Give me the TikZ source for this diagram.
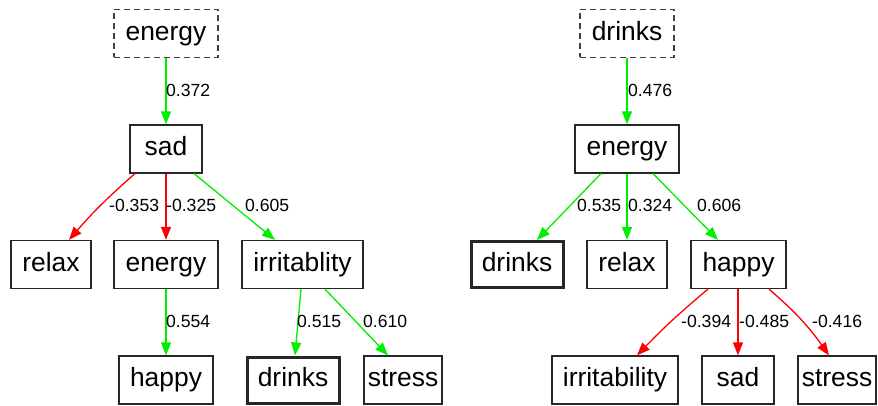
\documentclass[tikz,border=0pt]{standalone}
\usepackage{fontspec}
\setmainfont{Liberation Sans}
\usetikzlibrary{arrows.meta}
\definecolor{gedge}{RGB}{0,238,0}
\definecolor{redge}{RGB}{255,0,0}
\begin{document}
\begin{tikzpicture}[x=1pt,y=-1pt,
  box/.style={draw=black!85,line width=1.2pt,inner sep=0pt,minimum height=48pt,
    font=\fontsize{26.4}{28}\selectfont,text height=19.5pt,text depth=6pt},
  rootbox/.style={box,draw=black!75,dash pattern=on 6pt off 4pt},
  leafbox/.style={box,line width=3pt},
  lbl/.style={anchor=west,inner sep=0pt,font=\fontsize{17.6}{19}\selectfont},
  posedge/.style={draw=gedge,line width=1.3pt,-{Triangle[length=13pt,width=10pt]}},
  negedge/.style={draw=redge,line width=1.3pt,-{Triangle[length=13pt,width=10pt]}},
]
\useasboundingbox (0,0) rectangle (878,406);
\fill[white] (0,0) rectangle (878,406);
% left tree
\node[rootbox,minimum width=104pt] (le) at (166,33.5) {energy};
\node[box,minimum width=72pt] (ls) at (166,149) {sad};
\node[box,minimum width=80pt] (lr) at (51,264.5) {relax};
\node[box,minimum width=104pt] (le2) at (166,264.5) {energy};
\node[box,minimum width=121pt] (li) at (302.5,264.5) {irritablity};
\node[box,minimum width=94pt] (lh) at (166,380) {happy};
\node[leafbox,minimum width=92pt,minimum height=46pt] (ld) at (293,380) {drinks};
\node[box,minimum width=78pt] (lst) at (403,380) {stress};
\draw[posedge] (le.south) -- (ls.north);
\draw[negedge] ([xshift=-31pt]ls.south) to[bend right=4] ([xshift=18pt]lr.north);
\draw[negedge] (ls.south) -- (le2.north);
\draw[posedge] ([xshift=28pt]ls.south) -- ([xshift=-27.5pt]li.north);
\draw[posedge] (le2.south) -- (lh.north);
\draw[posedge] ([xshift=-1.5pt]li.south) -- ([xshift=2pt]ld.north);
\draw[posedge] ([xshift=22.5pt]li.south) -- ([xshift=-15pt]lst.north);
\node[lbl] (a1) at (166,90) {0.372};
\node[lbl] (a2) at (109,205) {-0.353};
\node[lbl] (a3) at (166,205) {-0.325};
\node[lbl] (a4) at (245,205) {0.605};
\node[lbl] (a5) at (166,321) {0.554};
\node[lbl] (a6) at (297,321) {0.515};
\node[lbl] (a7) at (363,321) {0.610};
% right tree
\node[rootbox,minimum width=94pt] (rd) at (627,33.5) {drinks};
\node[box,minimum width=104pt] (re) at (627,149) {energy};
\node[leafbox,minimum width=92pt,minimum height=46pt] (rd2) at (517,264.5) {drinks};
\node[box,minimum width=80pt] (rr) at (627,264.5) {relax};
\node[box,minimum width=95pt] (rh) at (738.5,264.5) {happy};
\node[box,minimum width=126pt] (ri) at (615,380) {irritability};
\node[box,minimum width=72pt] (rs) at (738,380) {sad};
\node[box,minimum width=78pt] (rst) at (837,380) {stress};
\draw[posedge] (rd.south) -- (re.north);
\draw[posedge] ([xshift=-26pt]re.south) -- ([xshift=20pt]rd2.north);
\draw[posedge] (re.south) -- (rr.north);
\draw[posedge] ([xshift=26pt]re.south) -- ([xshift=-20.5pt]rh.north);
\draw[negedge] ([xshift=-30.5pt]rh.south) to[bend right=3] ([xshift=22pt]ri.north);
\draw[negedge] ([xshift=-0.5pt]rh.south) -- (rs.north);
\draw[negedge] ([xshift=30.5pt]rh.south) to[bend left=7] ([xshift=-8pt]rst.north);
\node[lbl] (b1) at (628,90) {0.476};
\node[lbl] (b2) at (577,205) {0.535};
\node[lbl] (b3) at (628,205) {0.324};
\node[lbl] (b4) at (697,205) {0.606};
\node[lbl] (b5) at (681,321) {-0.394};
\node[lbl] (b6) at (739,321) {-0.485};
\node[lbl] (b7) at (812,321) {-0.416};
\end{tikzpicture}
\end{document}
